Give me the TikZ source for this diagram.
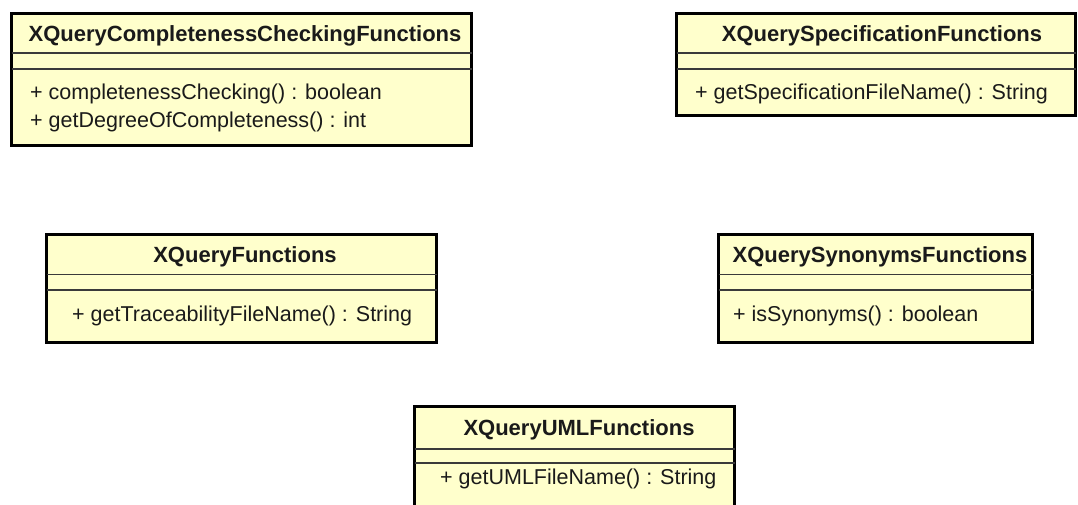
\documentclass[tikz,border=0pt]{standalone}
\usepackage{fontspec}
\setmainfont{Liberation Sans}
\usetikzlibrary{calc}
\definecolor{classfill}{HTML}{FFFFCC}
\definecolor{classink}{HTML}{1A1A1A}
\definecolor{sepline}{HTML}{3A3A3A}
\begin{document}
\begin{tikzpicture}[x=1pt,y=-1pt,
  classframe/.style={draw=black, line width=3pt, fill=classfill, anchor=north west,
    inner sep=0pt, outer sep=0pt},
  compartment/.style={draw=sepline, line width=1.4pt},
  classname/.style={font=\bfseries\fontsize{22}{26}\selectfont, text=classink,
    inner sep=0pt, anchor=center},
  member/.style={font=\fontsize{21.5}{25}\selectfont, text=classink,
    inner sep=0pt, anchor=base west}]
\useasboundingbox[fill=white] (0,0) rectangle (1078,505);

% XQueryCompletenessCheckingFunctions
\node[classframe, minimum width=460pt, minimum height=132pt] (cc) at (11.5,13.5) {};
\draw[compartment] (cc.west |- 0,53) -- (cc.east |- 0,53);
\draw[compartment] (cc.west |- 0,69) -- (cc.east |- 0,69);
\node[classname] (cc-name) at (245,36) {XQueryCompletenessCheckingFunctions};
\node[member] (cc-m1) at (30,99.5) {+ completenessChecking() : boolean};
\node[member] (cc-m2) at (30,127.5) {+ getDegreeOfCompleteness() : int};

% XQuerySpecificationFunctions
\node[classframe, minimum width=399pt, minimum height=102pt] (spec) at (676.5,13.5) {};
\draw[compartment] (spec.west |- 0,53) -- (spec.east |- 0,53);
\draw[compartment] (spec.west |- 0,69) -- (spec.east |- 0,69);
\node[classname] (spec-name) at (882,36) {XQuerySpecificationFunctions};
\node[member] (spec-m1) at (695,100) {+ getSpecificationFileName() : String};

% XQueryFunctions
\node[classframe, minimum width=390pt, minimum height=108pt] (xq) at (46.5,234.5) {};
\draw[compartment] (xq.west |- 0,274.5) -- (xq.east |- 0,274.5);
\draw[compartment] (xq.west |- 0,290) -- (xq.east |- 0,290);
\node[classname] (xq-name) at (245,257) {XQueryFunctions};
\node[member] (xq-m1) at (72,321) {+ getTraceabilityFileName() : String};

% XQuerySynonymsFunctions
\node[classframe, minimum width=314pt, minimum height=108pt] (syn) at (718.5,234.5) {};
\draw[compartment] (syn.west |- 0,274.5) -- (syn.east |- 0,274.5);
\draw[compartment] (syn.west |- 0,290) -- (syn.east |- 0,290);
\node[classname] (syn-name) at (880,257) {XQuerySynonymsFunctions};
\node[member] (syn-m1) at (733,321) {+ isSynonyms() : boolean};

% XQueryUMLFunctions
\node[classframe, minimum width=320pt, minimum height=120pt] (uml) at (414.5,406.5) {};
\draw[compartment] (uml.west |- 0,449) -- (uml.east |- 0,449);
\draw[compartment] (uml.west |- 0,463) -- (uml.east |- 0,463);
\node[classname] (uml-name) at (579,430) {XQueryUMLFunctions};
\node[member] (uml-m1) at (440,484) {+ getUMLFileName() : String};
\end{tikzpicture}
\end{document}
